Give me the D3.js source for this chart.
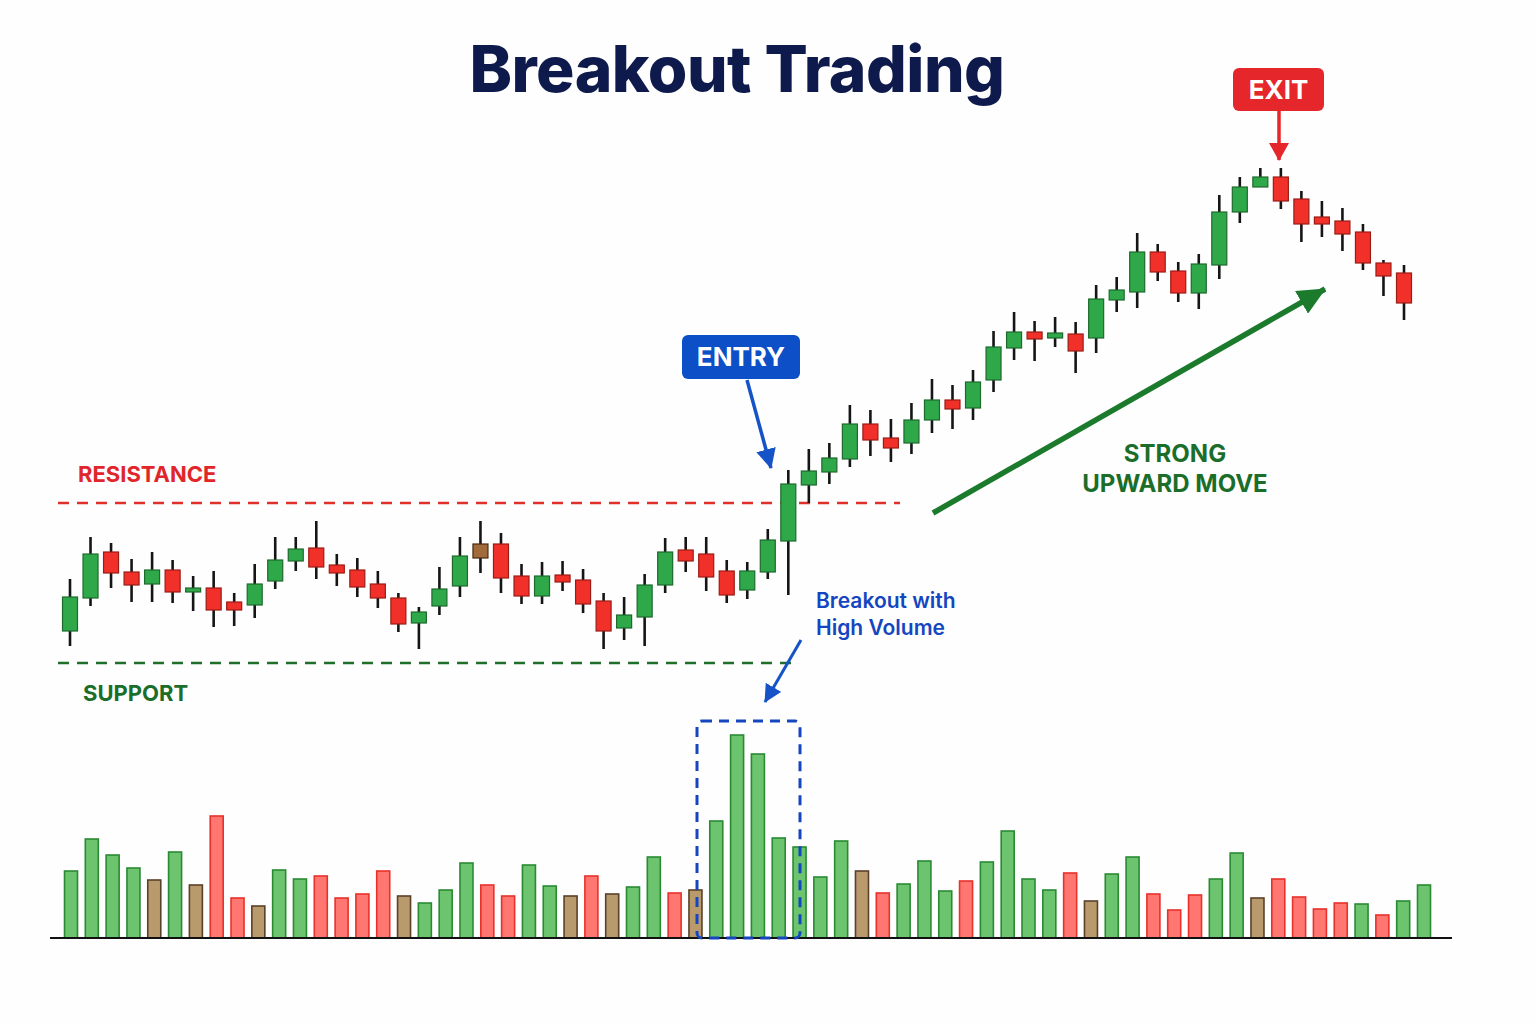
<!DOCTYPE html>
<html>
<head>
<meta charset="utf-8">
<script src="https://cdn.jsdelivr.net/npm/d3@7"></script>
<style>
  html, body { margin: 0; padding: 0; background: #fefefe; }
  svg { display: block; font-family: Inter, Roboto, "Noto Sans", sans-serif; }
</style>
</head>
<body>
<svg id="chart" width="1536" height="1024"></svg>
<script>
// ---------------- data ----------------
const opens  = [69,102,148,128,116,130,108,112,98,95,119,139,152,135,130,116,102,77,94,114,142,156,124,104,125,120,99,72,83,115,150,146,129,110,128,159,215,228,241,276,262,257,280,300,292,320,352,368,362,366,362,400,408,448,429,407,435,488,513,523,501,483,479,468,437,427];
const highs  = [121,163,157,141,148,140,124,129,107,136,163,163,179,146,142,129,107,93,133,163,179,167,136,138,139,131,107,103,126,162,163,163,140,138,171,230,251,257,295,290,281,297,321,315,330,369,388,379,383,378,415,423,467,456,438,446,505,523,532,532,509,499,492,476,440,435];
const lows   = [54,94,112,98,98,97,89,73,74,82,111,129,121,114,103,92,68,51,85,103,127,107,96,96,109,87,51,60,54,107,128,109,97,101,121,105,197,216,233,244,238,246,267,271,280,308,340,339,353,327,347,388,392,419,398,391,421,477,513,491,458,463,449,430,404,380];
const closes = [103,146,127,115,130,108,112,90,90,116,140,151,133,127,113,102,76,88,111,144,156,122,104,124,118,96,69,85,115,148,139,123,105,129,160,216,229,242,276,260,252,280,300,291,318,353,368,361,367,349,401,410,448,428,407,436,488,513,523,499,476,476,466,437,424,397];
const mutedCandles = [20];   // brownish candle

const volumes = [67,99,83,70,58,86,53,122,40,32,68,59,62,40,44,67,42,35,48,75,53,42,73,52,42,62,44,51,81,45,48,117,203,184,100,91,61,97,67,45,54,77,47,57,76,107,59,48,65,37,64,81,44,28,43,59,85,40,59,41,29,35,34,23,37,53];
const volumeTone = ["g","g","g","g","b","g","b","r","r","b","g","g","r","r","r","r","b","g","g","g","r","r","g","g","b","r","b","g","g","r","b","g","g","g","g","g","g","g","b","r","g","g","g","r","g","g","g","g","r","b","g","g","r","r","r","g","g","b","r","r","r","r","g","r","g","g"];

const supportLevel = 37;
const resistanceLevel = 197;
const titleText = "Breakout Trading";

// ---------------- drawing ----------------
const svg = d3.select("#chart");
const n = opens.length;
const idx = d3.range(n);

const x = d3.scaleLinear().domain([0, n - 1]).range([70, 1404]);
const y = d3.scaleLinear().domain([0, 700]).range([700, 0]);
const xv = d3.scaleLinear().domain([0, n - 1]).range([71, 1424]);
const yv = d3.scaleLinear().domain([0, 220]).range([938, 718]);

const defs = svg.append("defs");
function marker(id, color, w, h) {
  defs.append("marker").attr("id", id)
    .attr("viewBox", `0 0 ${h} ${w}`).attr("refX", h - 1).attr("refY", w / 2)
    .attr("markerUnits", "userSpaceOnUse").attr("markerWidth", h).attr("markerHeight", w)
    .attr("orient", "auto")
    .append("path").attr("d", `M0,0 L${h},${w / 2} L0,${w} Z`).attr("fill", color);
}
marker("ah-blue", "#1553c6", 20, 20);
marker("ah-red", "#e5262a", 20, 18);
marker("ah-green", "#1b7a2c", 26, 28);
marker("ah-blue2", "#1553c6", 18, 18);

svg.append("rect").attr("width", 1536).attr("height", 1024).attr("fill", "#fefefe");

// Title
svg.append("text").attr("x", 737).attr("y", 92).attr("text-anchor", "middle")
  .attr("font-size", 64).attr("font-weight", 800).attr("fill", "#0e1a4b")
  .attr("letter-spacing", -0.5)
  .text(titleText);

// Support / resistance
svg.append("line").attr("x1", 58).attr("x2", 900)
  .attr("y1", y(resistanceLevel)).attr("y2", y(resistanceLevel))
  .attr("stroke", "#e0302a").attr("stroke-width", 2.5).attr("stroke-dasharray", "11 8");
svg.append("line").attr("x1", 58).attr("x2", 796)
  .attr("y1", y(supportLevel)).attr("y2", y(supportLevel))
  .attr("stroke", "#1f6e2c").attr("stroke-width", 2.5).attr("stroke-dasharray", "11 8");

svg.append("text").attr("x", 78).attr("y", 482).attr("font-size", 22).attr("font-weight", 700)
  .attr("fill", "#e0262a").text("RESISTANCE");
svg.append("text").attr("x", 83).attr("y", 701).attr("font-size", 22).attr("font-weight", 700)
  .attr("fill", "#1b6e2a").text("SUPPORT");

// Candles
const bodyW = 15;
function candleFill(i) {
  if (mutedCandles.includes(i)) return "#a06a3a";
  return closes[i] >= opens[i] ? "#2fa84a" : "#f2302a";
}
function candleStroke(i) {
  if (mutedCandles.includes(i)) return "#4a2a10";
  return closes[i] >= opens[i] ? "#1d6a2d" : "#9a1c14";
}
const cg = svg.append("g");
cg.selectAll("line.wick").data(idx).join("line").attr("class", "wick")
  .attr("x1", i => x(i)).attr("x2", i => x(i))
  .attr("y1", i => y(highs[i])).attr("y2", i => y(lows[i]))
  .attr("stroke", "#151515").attr("stroke-width", 2.6);
cg.selectAll("rect.body").data(idx).join("rect").attr("class", "body")
  .attr("x", i => x(i) - bodyW / 2)
  .attr("y", i => y(Math.max(opens[i], closes[i])))
  .attr("width", bodyW)
  .attr("height", i => Math.max(3, Math.abs(y(opens[i]) - y(closes[i]))))
  .attr("fill", candleFill).attr("stroke", candleStroke).attr("stroke-width", 1.2);

// Volume bars
const toneFill = { g: "#6cc46e", r: "#ff7770", b: "#b99a6c" };
const toneStroke = { g: "#2a8a34", r: "#e8312b", b: "#5a4128" };
const barW = 13;
svg.append("g").selectAll("rect").data(idx).join("rect")
  .attr("x", i => xv(i) - barW / 2).attr("y", i => yv(volumes[i]))
  .attr("width", barW).attr("height", i => yv(0) - yv(volumes[i]))
  .attr("fill", i => toneFill[volumeTone[i]])
  .attr("stroke", i => toneStroke[volumeTone[i]]).attr("stroke-width", 1.6);

// Volume baseline
svg.append("line").attr("x1", 50).attr("x2", 1452).attr("y1", yv(0)).attr("y2", yv(0))
  .attr("stroke", "#111").attr("stroke-width", 2);

// High-volume highlight box
svg.append("rect").attr("x", 697).attr("y", 721).attr("width", 103).attr("height", 217)
  .attr("rx", 5).attr("fill", "none").attr("stroke", "#1546c0").attr("stroke-width", 3)
  .attr("stroke-dasharray", "10 7");

// ENTRY label
const eg = svg.append("g");
eg.append("rect").attr("x", 682).attr("y", 335).attr("width", 118).attr("height", 44).attr("rx", 6)
  .attr("fill", "#0d4fc6");
eg.append("text").attr("x", 741).attr("y", 366).attr("text-anchor", "middle")
  .attr("font-size", 26).attr("font-weight", 700).attr("fill", "#fff").text("ENTRY");
eg.append("line").attr("x1", 747).attr("y1", 380).attr("x2", 771).attr("y2", 468)
  .attr("stroke", "#1553c6").attr("stroke-width", 3.5).attr("marker-end", "url(#ah-blue)");

// EXIT label
const xg = svg.append("g");
xg.append("rect").attr("x", 1233).attr("y", 68).attr("width", 91).attr("height", 43).attr("rx", 6)
  .attr("fill", "#e5262a");
xg.append("text").attr("x", 1278.5).attr("y", 99).attr("text-anchor", "middle")
  .attr("font-size", 26).attr("font-weight", 700).attr("fill", "#fff").text("EXIT");
xg.append("line").attr("x1", 1279).attr("y1", 111).attr("x2", 1279).attr("y2", 160)
  .attr("stroke", "#e5262a").attr("stroke-width", 3.5).attr("marker-end", "url(#ah-red)");

// Strong upward move
svg.append("line").attr("x1", 933).attr("y1", 513).attr("x2", 1325).attr("y2", 289)
  .attr("stroke", "#1b7a2c").attr("stroke-width", 5.5).attr("marker-end", "url(#ah-green)");
const sm = svg.append("text").attr("text-anchor", "middle").attr("font-size", 24)
  .attr("font-weight", 700).attr("fill", "#1b6e2a");
sm.append("tspan").attr("x", 1175).attr("y", 462).text("STRONG");
sm.append("tspan").attr("x", 1175).attr("y", 492).text("UPWARD MOVE");

// Breakout with high volume
const bv = svg.append("text").attr("font-size", 21).attr("font-weight", 600).attr("fill", "#1546c0");
bv.append("tspan").attr("x", 816).attr("y", 608).text("Breakout with");
bv.append("tspan").attr("x", 816).attr("y", 635).text("High Volume");
svg.append("line").attr("x1", 801).attr("y1", 640).attr("x2", 765).attr("y2", 702)
  .attr("stroke", "#1553c6").attr("stroke-width", 3).attr("marker-end", "url(#ah-blue2)");
</script>
</body>
</html>
